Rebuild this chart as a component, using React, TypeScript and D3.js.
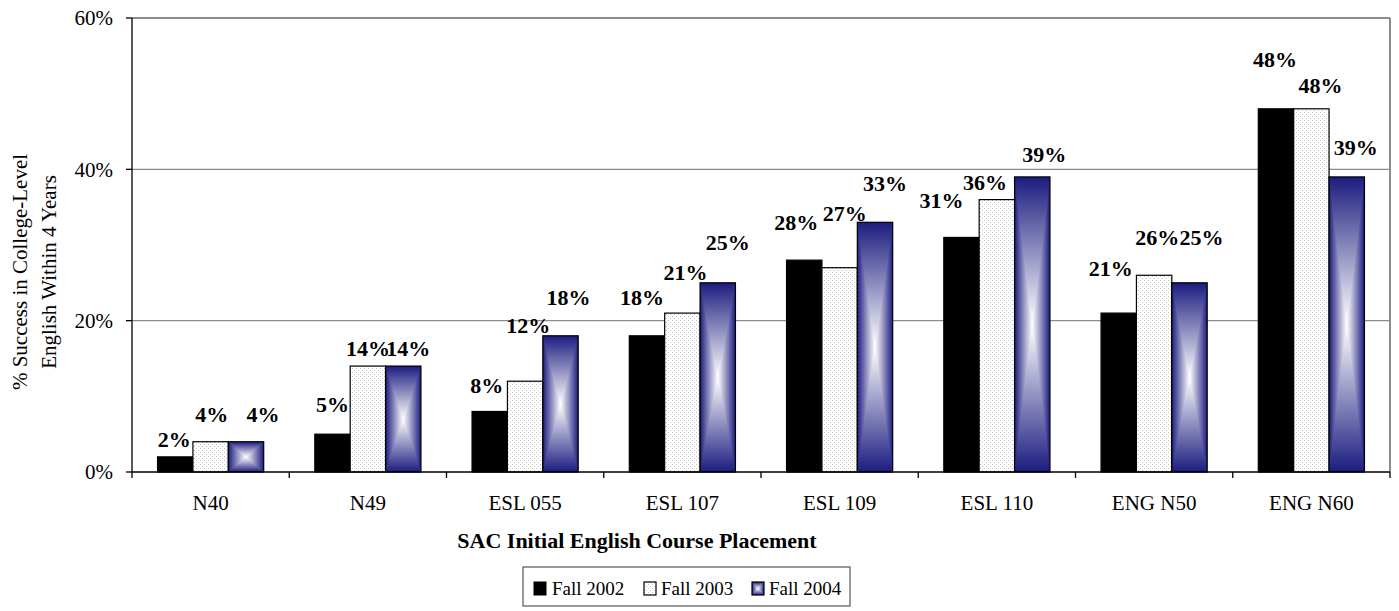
import React from "react";
import * as d3 from "d3";

const categories = ["N40", "N49", "ESL 055", "ESL 107", "ESL 109", "ESL 110", "ENG N50", "ENG N60"];
const seriesNames = ["Fall 2002", "Fall 2003", "Fall 2004"];
const fall2002 = [2, 5, 8, 18, 28, 31, 21, 48];
const fall2003 = [4, 14, 12, 21, 27, 36, 26, 48];
const fall2004 = [4, 14, 18, 25, 33, 39, 25, 39];
const yTicks = [0, 20, 40, 60];

// label nudges (layout only): [dx, dy above bar top] per category per series
const labelNudges = [
  [[-1, 10], [1, 20], [17, 20]],
  [[0, 22], [0, 10], [5, 10]],
  [[-3, 18], [3, 48], [8, 31]],
  [[-5, 31], [3, 33], [10, 33]],
  [[-8, 30], [5, 47], [10, 31]],
  [[-20, 29], [-12, 10], [12, 15]],
  [[-8, 37], [3, 30], [12, 38]],
  [[-1, 42], [9, 16], [9, 22]],
];

const W = 1399, H = 611;
const L = 132, R = 1390, T = 18, B = 472;
const NAVY = "#1c1c80";
const SERIF = "'Liberation Serif', 'Times New Roman', serif";

function GradBar({ x, y, w, h }: { x: number; y: number; w: number; h: number }) {
  const cx = x + w / 2, cy = y + h / 2;
  return (
    <g>
      <rect x={x} y={y} width={w} height={h} fill="url(#gHoriz)" />
      <polygon points={`${x},${y} ${x + w},${y} ${cx},${cy}`} fill="url(#gTop)" />
      <polygon points={`${x},${y + h} ${x + w},${y + h} ${cx},${cy}`} fill="url(#gBot)" />
      <rect x={x} y={y} width={w} height={h} fill="none" stroke="#000" strokeWidth={1.2} />
    </g>
  );
}

export default function App() {
  const series = [fall2002, fall2003, fall2004];
  const x = d3.scaleBand<string>().domain(categories).range([L, R]).paddingInner(0).paddingOuter(0);
  const bw = x.bandwidth();
  const groupW = bw * 0.675;
  const xs = d3.scaleBand<string>().domain(seriesNames).range([0, groupW]).padding(0);
  const barW = xs.bandwidth();
  const y = d3.scaleLinear().domain([0, 60]).range([B, T]);
  const pct = (v: number) => `${v}%`;

  const bars: React.ReactNode[] = [];
  const labels: React.ReactNode[] = [];
  categories.forEach((c, ci) => {
    const gx = (x(c) as number) + (bw - groupW) / 2;
    series.forEach((vals, si) => {
      const v = vals[ci];
      const bx = gx + (xs(seriesNames[si]) as number);
      const by = y(v);
      const bh = y(0) - y(v);
      if (si === 0) {
        bars.push(<rect key={`b${ci}-${si}`} x={bx} y={by} width={barW} height={bh} fill="#000" stroke="#000" strokeWidth={1.2} />);
      } else if (si === 1) {
        bars.push(<rect key={`b${ci}-${si}`} x={bx} y={by} width={barW} height={bh} fill="url(#dots)" stroke="#000" strokeWidth={1.2} />);
      } else {
        bars.push(<GradBar key={`b${ci}-${si}`} x={bx} y={by} w={barW} h={bh} />);
      }
      const [dx, dy] = labelNudges[ci][si];
      labels.push(
        <text key={`l${ci}-${si}`} x={bx + barW / 2 + dx} y={by - dy} textAnchor="middle"
          fontFamily={SERIF} fontWeight="bold" fontSize={22} fill="#000">{pct(v)}</text>
      );
    });
  });

  const legendItems = [
    { name: seriesNames[0], sx: 534, tx: 552 },
    { name: seriesNames[1], sx: 644, tx: 661 },
    { name: seriesNames[2], sx: 752, tx: 769 },
  ];

  return (
    <svg width={W} height={H} style={{ position: "absolute", left: 0, top: 0, background: "#fff" }}>
      <defs>
        <pattern id="dots" width={4} height={4} patternUnits="userSpaceOnUse">
          <rect width={4} height={4} fill="#fff" />
          <rect x={0} y={0} width={1} height={1} fill="#c4c4c4" />
          <rect x={2} y={2} width={1} height={1} fill="#c4c4c4" />
        </pattern>
        <linearGradient id="gHoriz" x1="0" y1="0" x2="1" y2="0">
          <stop offset="0" stopColor={NAVY} />
          <stop offset="0.5" stopColor="#fff" />
          <stop offset="1" stopColor={NAVY} />
        </linearGradient>
        <linearGradient id="gTop" x1="0" y1="0" x2="0" y2="1">
          <stop offset="0" stopColor={NAVY} />
          <stop offset="1" stopColor="#fff" />
        </linearGradient>
        <linearGradient id="gBot" x1="0" y1="1" x2="0" y2="0">
          <stop offset="0" stopColor={NAVY} />
          <stop offset="1" stopColor="#fff" />
        </linearGradient>
      </defs>

      {yTicks.filter((t) => t > 0 && t < 60).map((t) => (
        <line key={`g${t}`} x1={L} x2={R} y1={y(t)} y2={y(t)} stroke="#8c8c8c" strokeWidth={1.2} />
      ))}
      <line x1={L} x2={R} y1={T} y2={T} stroke="#8c8c8c" strokeWidth={2} />
      <line x1={R} x2={R} y1={T} y2={B} stroke="#8c8c8c" strokeWidth={2} />

      {bars}

      <line x1={L} x2={L} y1={T} y2={B} stroke="#000" strokeWidth={1.3} />
      <line x1={L} x2={R} y1={B} y2={B} stroke="#000" strokeWidth={1.3} />
      {yTicks.map((t) => (
        <g key={`yt${t}`}>
          <line x1={L - 6} x2={L} y1={y(t)} y2={y(t)} stroke="#000" strokeWidth={1.3} />
          <text x={113} y={y(t)} dy="0.35em" textAnchor="end" fontFamily={SERIF} fontSize={21}>{pct(t)}</text>
        </g>
      ))}
      {categories.map((c) => (
        <line key={`xt${c}`} x1={(x(c) as number) + bw} x2={(x(c) as number) + bw} y1={B} y2={B + 6} stroke="#000" strokeWidth={1.3} />
      ))}
      <line x1={L} x2={L} y1={B} y2={B + 6} stroke="#000" strokeWidth={1.3} />
      {categories.map((c) => (
        <text key={`xl${c}`} x={(x(c) as number) + bw / 2} y={510} textAnchor="middle" fontFamily={SERIF} fontSize={21}>{c}</text>
      ))}

      {labels}

      <g transform="translate(27,272) rotate(-90)">
        <text x={0} y={0} textAnchor="middle" fontFamily={SERIF} fontSize={21}>% Success in College-Level</text>
      </g>
      <g transform="translate(56,272) rotate(-90)">
        <text x={0} y={0} textAnchor="middle" fontFamily={SERIF} fontSize={21}>English Within 4 Years</text>
      </g>

      <text x={637} y={548} textAnchor="middle" fontFamily={SERIF} fontWeight="bold" fontSize={22}>SAC Initial English Course Placement</text>

      <rect x={523} y={567} width={327} height={39} fill="#fff" stroke="#555" strokeWidth={1.2} />
      {legendItems.map((it, i) => (
        <g key={`lg${i}`}>
          {i === 0 && <rect x={it.sx} y={582} width={12} height={13} fill="#000" stroke="#000" />}
          {i === 1 && <rect x={it.sx} y={582} width={12} height={13} fill="url(#dots)" stroke="#000" strokeWidth={1.2} />}
          {i === 2 && <GradBar x={it.sx} y={582} w={12} h={13} />}
          <text x={it.tx} y={595} fontFamily={SERIF} fontSize={19}>{it.name}</text>
        </g>
      ))}
    </svg>
  );
}
